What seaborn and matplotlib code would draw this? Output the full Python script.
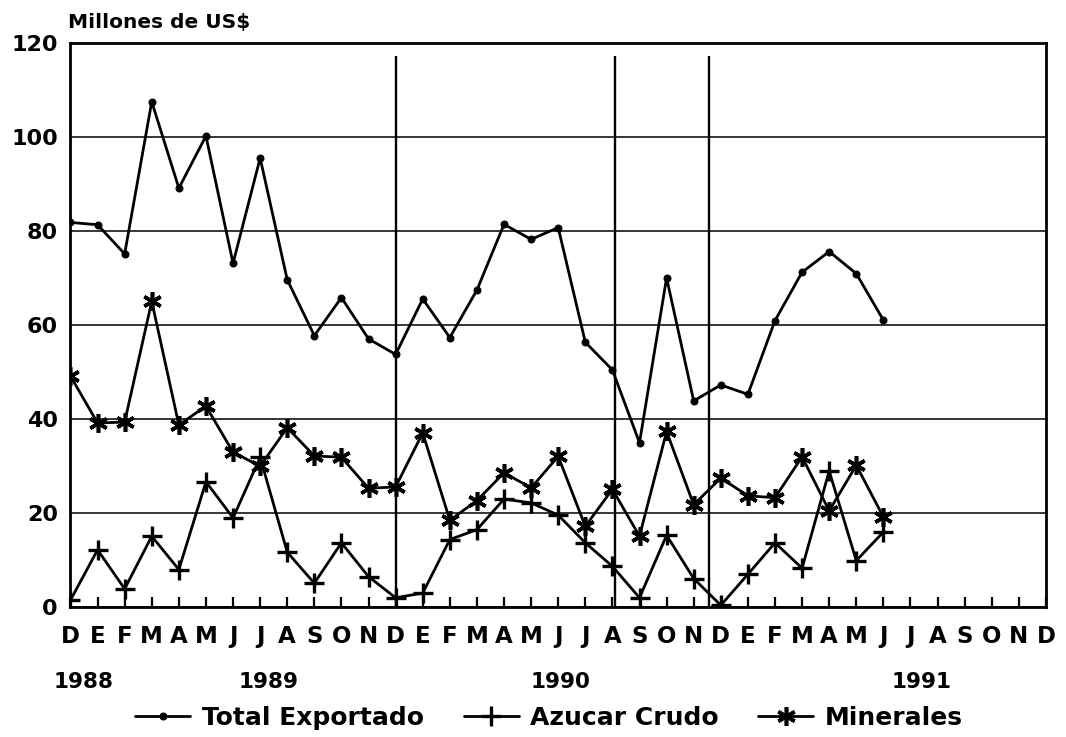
import matplotlib
matplotlib.use("Agg")
import matplotlib.pyplot as plt
import seaborn as sns
import pandas as pd
import numpy as np

# ---- data ----
month_labels = ["D", "E", "F", "M", "A", "M", "J", "J", "A", "S", "O", "N",
                "D", "E", "F", "M", "A", "M", "J", "J", "A", "S", "O", "N",
                "D", "E", "F", "M", "A", "M", "J", "J", "A", "S", "O", "N",
                "D"]
year_labels = ["1988", "1989", "1990", "1991"]
total_exportado = [81.8, 81.3, 75.1, 107.5, 89.1, 100.2, 73.1, 95.5, 69.6, 57.7,
                   65.8, 57.0, 53.7, 65.5, 57.3, 67.4, 81.4, 78.2, 80.7, 56.3,
                   50.4, 34.9, 70.0, 43.8, 47.2, 45.2, 60.9, 71.2, 75.6, 70.9,
                   61.0]
azucar_crudo = [1.4, 12.1, 3.8, 15.0, 7.9, 26.6, 18.9, 31.8, 11.6, 5.0,
                13.6, 6.4, 1.9, 2.9, 14.3, 16.4, 22.9, 22.1, 19.5, 13.6,
                8.6, 1.9, 15.2, 6.0, 0.3, 6.9, 13.6, 8.2, 28.9, 9.8,
                15.9]
minerales = [49.1, 39.1, 39.3, 65.0, 38.7, 42.7, 32.9, 29.9, 38.1, 32.1,
             31.8, 25.2, 25.5, 37.0, 18.4, 22.6, 28.5, 25.3, 32.0, 17.1,
             25.0, 15.0, 37.3, 21.7, 27.4, 23.6, 23.2, 31.9, 20.4, 30.1,
             19.1]
event_months = [12, 20.1, 23.55]

# ---- style ----
sns.set_style("white")
plt.rcParams['font.family'] = ['DejaVu Sans']
plt.rcParams['font.weight'] = 'bold'
plt.rcParams['text.color'] = 'black'
plt.rcParams['xtick.color'] = 'black'
plt.rcParams['ytick.color'] = 'black'
plt.rcParams['axes.labelcolor'] = 'black'

fig = plt.figure(figsize=(10.66, 7.37), dpi=100)
ax = fig.add_axes([0.0661, 0.1768, 0.9151, 0.7649])

idx = np.arange(len(total_exportado))
df = pd.DataFrame({"mes": idx, "Total Exportado": total_exportado,
                   "Azucar Crudo": azucar_crudo, "Minerales": minerales})

sns.lineplot(data=df, x="mes", y="Total Exportado", ax=ax, color="black",
             lw=2.0, marker="o", markersize=5, markeredgecolor="black",
             markerfacecolor="black", label="Total Exportado")
sns.lineplot(data=df, x="mes", y="Azucar Crudo", ax=ax, color="black",
             lw=2.0, marker="+", markersize=15, markeredgewidth=2.4,
             markeredgecolor="black", label="Azucar Crudo")
sns.lineplot(data=df, x="mes", y="Minerales", ax=ax, color="black",
             lw=2.0, marker=(6, 2, 0), markersize=13.5, markeredgewidth=2.6,
             markeredgecolor="black", label="Minerales")

ax.vlines(event_months, 0, 117.3, color="black", lw=1.7, zorder=1)

ax.set_xlim(0, 36)
ax.set_ylim(0, 120)
ax.set_xticks(np.arange(len(month_labels)))
ax.set_xticklabels(month_labels, fontsize=16.5, fontweight='bold')
ax.set_yticks([0, 20, 40, 60, 80, 100, 120])
ax.set_yticklabels(["0", "20", "40", "60", "80", "100", "120"],
                   fontsize=16, fontweight='bold')
ax.tick_params(axis='x', direction='in', length=7, width=1.6, color='black',
               pad=13.5, bottom=True, labelcolor='black')
ax.tick_params(axis='y', length=0, pad=9, labelcolor='black')
ax.set_xlabel("")
ax.set_ylabel("")
ax.yaxis.grid(True, color='black', lw=1.1)
ax.xaxis.grid(False)
ax.set_axisbelow(True)
for s in ax.spines.values():
    s.set_color('black')
    s.set_linewidth(2.0)

# year labels
year_pos = [0.48, 7.3, 18.1, 31.4]
for yl, xp in zip(year_labels, year_pos):
    ax.annotate(yl, xy=(xp, 0.0750), xycoords=('data', 'figure fraction'),
                ha='center', va='center', fontsize=15.5, fontweight='bold',
                color='black')

fig.text(0.064, 0.970, "Millones de US$", ha='left', va='center',
         fontsize=14.5, fontweight='bold', color='black')

ax.get_legend().remove()
handles, labels = ax.get_legend_handles_labels()
fig.legend(handles, labels, loc='center', bbox_to_anchor=(0.515, 0.026),
           ncol=3, frameon=False, handlelength=2.2,
           columnspacing=1.6, handletextpad=0.45, markerscale=1.0,
           prop={'weight': 'bold', 'size': 18}, labelcolor='black')

fig.savefig("out.png", dpi=100)
